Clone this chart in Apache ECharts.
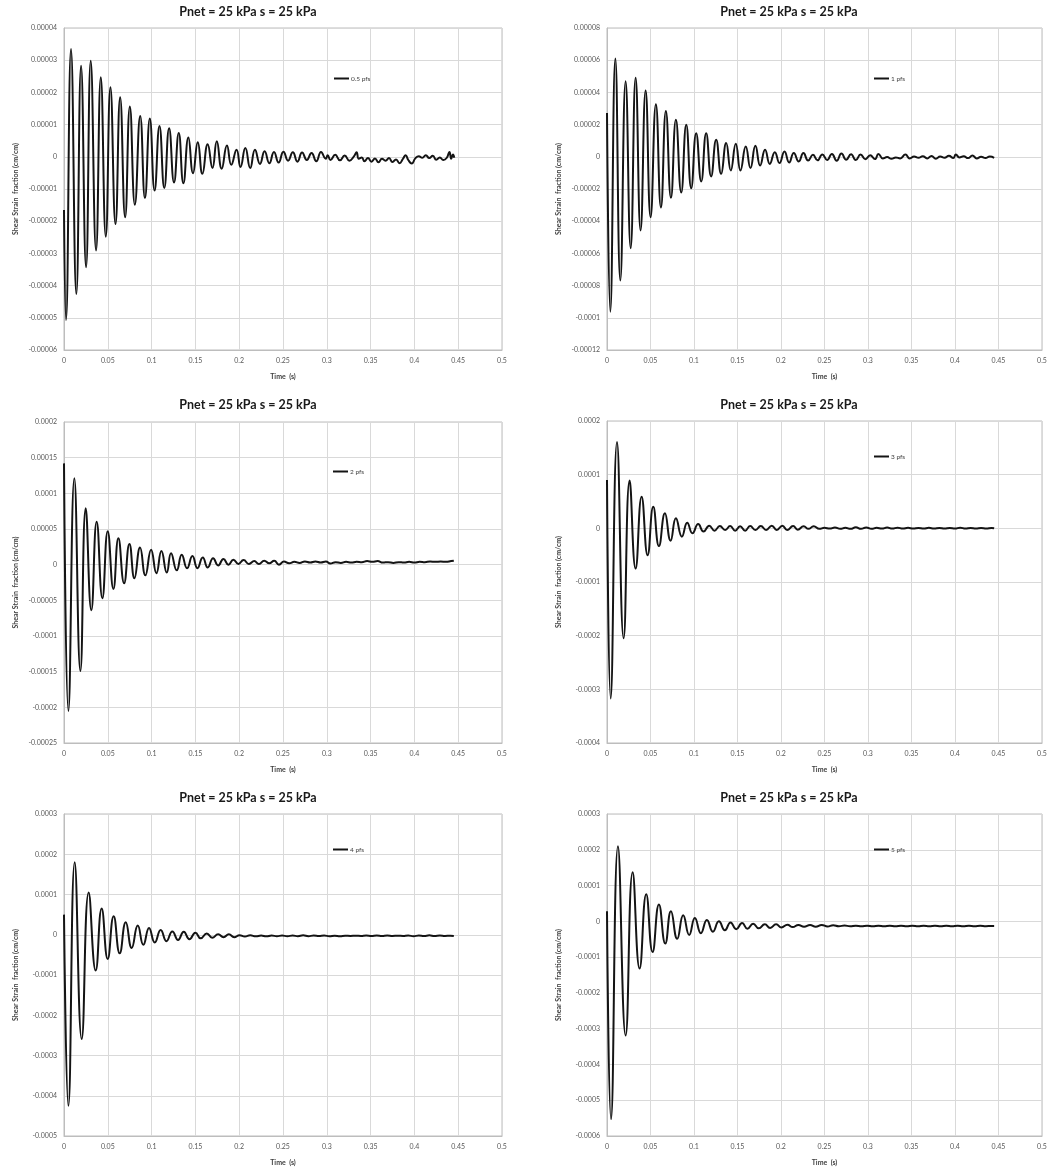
<!DOCTYPE html>
<html>
<head>
<meta charset="utf-8">
<title>Shear strain response</title>
<script src="https://cdn.jsdelivr.net/npm/echarts@6/dist/echarts.min.js"></script>
<style>
  html, body { margin: 0; padding: 0; background: #ffffff; }
  #chart { width: 1062px; height: 1174px; }
</style>
</head>
<body>
<div id="chart"></div>
<script>
// Shear strain time histories, [time (s), strain (cm/cm)] at peaks, troughs and tail wiggles.
const pfs05 = [
  [0, -1.65e-5], [0.0023, -5.07e-5], [0.0080, 3.35e-5], [0.0141, -4.26e-5], [0.0195, 2.83e-5],
  [0.0252, -3.43e-5], [0.0305, 2.98e-5], [0.0366, -2.91e-5], [0.0420, 2.47e-5], [0.0477, -2.48e-5],
  [0.0530, 2.16e-5], [0.0588, -2.09e-5], [0.0641, 1.85e-5], [0.0698, -1.88e-5], [0.0752, 1.56e-5],
  [0.0809, -1.49e-5], [0.0870, 1.27e-5], [0.0924, -1.28e-5], [0.0980, 1.19e-5], [0.1034, -1.05e-5],
  [0.1090, 0.96e-5], [0.1145, -0.97e-5], [0.1200, 0.89e-5], [0.1256, -0.80e-5], [0.1310, 0.74e-5],
  [0.1363, -0.82e-5], [0.1420, 0.60e-5], [0.1473, -0.51e-5], [0.1527, 0.45e-5], [0.1580, -0.53e-5],
  [0.1640, 0.39e-5], [0.1695, -0.35e-5], [0.1744, 0.48e-5], [0.1800, -0.37e-5], [0.1860, 0.35e-5],
  [0.1910, -0.25e-5], [0.1970, 0.22e-5], [0.2015, -0.32e-5], [0.2070, 0.27e-5], [0.2126, -0.35e-5],
  [0.2180, 0.22e-5], [0.2237, -0.22e-5], [0.2290, 0.17e-5], [0.2344, -0.20e-5], [0.2397, 0.15e-5],
  [0.2450, -0.18e-5], [0.2505, 0.16e-5], [0.2558, -0.12e-5], [0.2612, 0.14e-5], [0.2665, -0.15e-5],
  [0.2718, 0.13e-5], [0.2772, -0.10e-5], [0.2826, 0.12e-5], [0.2880, -0.14e-5], [0.2934, 0.15e-5],
  [0.2988, -0.06e-5], [0.3010, 0.05e-5], [0.3042, -0.10e-5], [0.3096, 0.06e-5], [0.3150, -0.11e-5],
  [0.3204, 0.04e-5], [0.3258, -0.12e-5], [0.3312, 0.02e-5], [0.3340, 0.14e-5], [0.3365, -0.06e-5],
  [0.3400, -0.02e-5], [0.3430, -0.14e-5], [0.3470, -0.04e-5], [0.3510, -0.15e-5], [0.3550, -0.05e-5],
  [0.3590, -0.17e-5], [0.3630, -0.06e-5], [0.3670, -0.12e-5], [0.3710, -0.04e-5], [0.3750, -0.16e-5],
  [0.3790, -0.08e-5], [0.3830, -0.20e-5], [0.3870, -0.06e-5], [0.3900, 0.05e-5], [0.3930, -0.10e-5],
  [0.3970, -0.21e-5], [0.4010, -0.05e-5], [0.4050, 0.02e-5], [0.4090, -0.03e-5], [0.4130, 0.05e-5],
  [0.4170, -0.04e-5], [0.4210, 0.03e-5], [0.4250, -0.09e-5], [0.4290, -0.02e-5], [0.4330, -0.10e-5],
  [0.4370, -0.03e-5], [0.4400, 0.15e-5], [0.4420, -0.06e-5], [0.4440, 0.07e-5], [0.4455, -0.03e-5]
];

const pfs1 = [
  [0, 2.72e-5], [0.0038, -9.62e-5], [0.0096, 6.11e-5], [0.0153, -7.69e-5], [0.0214, 4.70e-5],
  [0.0272, -5.68e-5], [0.0329, 4.91e-5], [0.0386, -4.58e-5], [0.0444, 4.12e-5], [0.0501, -3.75e-5],
  [0.0562, 3.27e-5], [0.0620, -3.15e-5], [0.0677, 2.84e-5], [0.0735, -2.55e-5], [0.0792, 2.30e-5],
  [0.0853, -2.22e-5], [0.0911, 1.99e-5], [0.0968, -1.95e-5], [0.1025, 1.47e-5], [0.1083, -1.53e-5],
  [0.1140, 1.47e-5], [0.1197, -1.22e-5], [0.1255, 1.06e-5], [0.1312, -1.06e-5], [0.1370, 0.85e-5],
  [0.1423, -0.85e-5], [0.1480, 0.81e-5], [0.1534, -0.85e-5], [0.1595, 0.64e-5], [0.1649, -0.70e-5],
  [0.1706, 0.68e-5], [0.1760, -0.54e-5], [0.1817, 0.44e-5], [0.1871, -0.44e-5], [0.1929, 0.29e-5],
  [0.1983, -0.39e-5], [0.2040, 0.33e-5], [0.2094, -0.35e-5], [0.2147, 0.23e-5], [0.2204, -0.29e-5],
  [0.2258, 0.23e-5], [0.2312, -0.23e-5], [0.2367, 0.12e-5], [0.2420, -0.22e-5], [0.2475, 0.15e-5],
  [0.2530, -0.20e-5], [0.2585, 0.18e-5], [0.2640, -0.25e-5], [0.2695, 0.20e-5], [0.2750, -0.18e-5],
  [0.2805, 0.16e-5], [0.2860, -0.20e-5], [0.2915, 0.14e-5], [0.2970, -0.15e-5], [0.3025, 0.10e-5],
  [0.3080, -0.14e-5], [0.3120, 0.18e-5], [0.3170, -0.10e-5], [0.3220, -0.02e-5], [0.3270, -0.12e-5],
  [0.3320, -0.04e-5], [0.3370, -0.10e-5], [0.3430, 0.14e-5], [0.3480, -0.10e-5], [0.3530, 0.02e-5],
  [0.3580, -0.06e-5], [0.3630, 0.04e-5], [0.3680, -0.10e-5], [0.3730, 0.05e-5], [0.3780, -0.12e-5],
  [0.3830, 0.02e-5], [0.3880, -0.06e-5], [0.3930, 0.06e-5], [0.3980, -0.08e-5], [0.4010, 0.14e-5],
  [0.4050, -0.04e-5], [0.4100, 0.04e-5], [0.4150, -0.08e-5], [0.4200, 0.08e-5], [0.4250, -0.10e-5],
  [0.4300, 0.00], [0.4350, -0.08e-5], [0.4400, 0.02e-5], [0.4450, -0.06e-5]
];

const pfs2 = [
  [0, 14.2e-5], [0.0050, -20.5e-5], [0.0118, 12.1e-5], [0.0187, -14.9e-5], [0.0248, 7.9e-5],
  [0.0312, -6.4e-5], [0.0373, 6.0e-5], [0.0438, -4.7e-5], [0.0499, 4.7e-5], [0.0564, -3.4e-5],
  [0.0621, 3.7e-5], [0.0686, -2.6e-5], [0.0747, 2.9e-5], [0.0804, -1.9e-5], [0.0868, 2.4e-5],
  [0.0929, -1.5e-5], [0.0994, 2.1e-5], [0.1055, -1.2e-5], [0.1112, 1.9e-5], [0.1173, -1.1e-5],
  [0.1222, 1.6e-5], [0.1287, -0.8e-5], [0.1344, 1.4e-5], [0.1405, -0.5e-5], [0.1466, 1.2e-5],
  [0.1523, -0.5e-5], [0.1584, 1.0e-5], [0.1641, -0.4e-5], [0.1702, 0.9e-5], [0.1760, -0.1e-5],
  [0.1820, 0.8e-5], [0.1877, 0.0], [0.1934, 0.7e-5], [0.1991, 0.1e-5], [0.2050, 0.65e-5],
  [0.2111, 0.1e-5], [0.2172, 0.5e-5], [0.2225, 0.1e-5], [0.2286, 0.55e-5], [0.2343, 0.2e-5],
  [0.2400, 0.55e-5], [0.2454, 0.0], [0.2511, 0.45e-5], [0.2570, 0.2e-5], [0.2630, 0.4e-5],
  [0.2690, 0.25e-5], [0.2750, 0.45e-5], [0.2810, 0.3e-5], [0.2870, 0.45e-5], [0.2930, 0.3e-5],
  [0.2990, 0.45e-5], [0.3040, 0.15e-5], [0.3100, 0.35e-5], [0.3160, 0.25e-5], [0.3220, 0.4e-5],
  [0.3280, 0.3e-5], [0.3340, 0.4e-5], [0.3400, 0.35e-5], [0.3460, 0.5e-5], [0.3520, 0.4e-5],
  [0.3580, 0.5e-5], [0.3640, 0.3e-5], [0.3700, 0.35e-5], [0.3760, 0.25e-5], [0.3820, 0.35e-5],
  [0.3880, 0.3e-5], [0.3940, 0.4e-5], [0.4000, 0.3e-5], [0.4060, 0.4e-5], [0.4120, 0.35e-5],
  [0.4180, 0.45e-5], [0.4240, 0.4e-5], [0.4300, 0.45e-5], [0.4360, 0.4e-5], [0.4420, 0.5e-5],
  [0.4450, 0.55e-5]
];

const pfs3 = [
  [0, 9.0e-5], [0.0042, -31.7e-5], [0.0115, 16.1e-5], [0.0191, -20.5e-5], [0.0260, 8.9e-5],
  [0.0329, -7.5e-5], [0.0398, 5.9e-5], [0.0467, -5.0e-5], [0.0532, 4.0e-5], [0.0597, -3.3e-5],
  [0.0666, 2.8e-5], [0.0731, -2.3e-5], [0.0792, 1.9e-5], [0.0861, -1.55e-5], [0.0922, 1.05e-5],
  [0.0983, -0.93e-5], [0.1048, 0.8e-5], [0.1110, -0.6e-5], [0.1175, 0.5e-5], [0.1236, -0.43e-5],
  [0.1297, 0.43e-5], [0.1358, -0.3e-5], [0.1416, 0.43e-5], [0.1473, -0.43e-5], [0.1530, 0.37e-5],
  [0.1588, -0.43e-5], [0.1645, 0.43e-5], [0.1706, -0.3e-5], [0.1768, 0.43e-5], [0.1829, -0.3e-5],
  [0.1894, 0.5e-5], [0.1951, -0.3e-5], [0.2016, 0.5e-5], [0.2070, -0.3e-5], [0.2139, 0.43e-5],
  [0.2192, -0.25e-5], [0.2261, 0.37e-5], [0.2315, -0.1e-5], [0.2376, 0.37e-5], [0.2440, -0.1e-5],
  [0.2500, 0.1e-5], [0.2560, -0.05e-5], [0.2620, 0.15e-5], [0.2680, -0.1e-5], [0.2740, 0.1e-5],
  [0.2800, -0.1e-5], [0.2860, 0.2e-5], [0.2920, -0.1e-5], [0.2980, 0.15e-5], [0.3040, -0.1e-5],
  [0.3100, 0.1e-5], [0.3160, -0.05e-5], [0.3220, 0.15e-5], [0.3280, -0.05e-5], [0.3340, 0.12e-5],
  [0.3400, -0.05e-5], [0.3460, 0.1e-5], [0.3520, -0.05e-5], [0.3580, 0.08e-5], [0.3640, -0.05e-5],
  [0.3700, 0.1e-5], [0.3760, -0.05e-5], [0.3820, 0.08e-5], [0.3880, -0.05e-5], [0.3940, 0.06e-5],
  [0.4000, -0.05e-5], [0.4060, 0.12e-5], [0.4120, -0.05e-5], [0.4180, 0.06e-5], [0.4240, -0.05e-5],
  [0.4300, 0.06e-5], [0.4360, -0.04e-5], [0.4420, 0.05e-5], [0.4450, 0.0]
];

const pfs4 = [
  [0, 5.0e-5], [0.0050, -42.5e-5], [0.0122, 18.0e-5], [0.0202, -25.9e-5], [0.0282, 10.5e-5],
  [0.0362, -8.9e-5], [0.0430, 6.5e-5], [0.0499, -6.0e-5], [0.0567, 4.6e-5], [0.0636, -4.6e-5],
  [0.0705, 3.1e-5], [0.0773, -3.3e-5], [0.0842, 2.3e-5], [0.0906, -2.5e-5], [0.0971, 1.7e-5],
  [0.1036, -1.9e-5], [0.1104, 1.2e-5], [0.1169, -1.6e-5], [0.1237, 0.8e-5], [0.1302, -1.3e-5],
  [0.1367, 0.75e-5], [0.1432, -1.1e-5], [0.1500, 0.5e-5], [0.1560, -0.9e-5], [0.1630, 0.33e-5],
  [0.1692, -0.75e-5], [0.1760, 0.1e-5], [0.1821, -0.6e-5], [0.1882, 0.1e-5], [0.1943, -0.6e-5],
  [0.2004, -0.1e-5], [0.2065, -0.45e-5], [0.2126, -0.15e-5], [0.2190, -0.4e-5], [0.2250, -0.2e-5],
  [0.2310, -0.4e-5], [0.2370, -0.2e-5], [0.2430, -0.35e-5], [0.2490, -0.2e-5], [0.2550, -0.35e-5],
  [0.2610, -0.2e-5], [0.2670, -0.35e-5], [0.2730, -0.15e-5], [0.2790, -0.35e-5], [0.2850, -0.2e-5],
  [0.2910, -0.3e-5], [0.2970, -0.2e-5], [0.3030, -0.35e-5], [0.3090, -0.25e-5], [0.3150, -0.35e-5],
  [0.3210, -0.25e-5], [0.3270, -0.3e-5], [0.3330, -0.25e-5], [0.3390, -0.3e-5], [0.3450, -0.2e-5],
  [0.3510, -0.3e-5], [0.3570, -0.2e-5], [0.3630, -0.3e-5], [0.3690, -0.2e-5], [0.3750, -0.3e-5],
  [0.3810, -0.25e-5], [0.3870, -0.3e-5], [0.3930, -0.2e-5], [0.3990, -0.35e-5], [0.4050, -0.2e-5],
  [0.4110, -0.3e-5], [0.4170, -0.15e-5], [0.4230, -0.3e-5], [0.4290, -0.2e-5], [0.4350, -0.3e-5],
  [0.4410, -0.25e-5], [0.4450, -0.3e-5]
];

const pfs5 = [
  [0, 2.8e-5], [0.0046, -55.3e-5], [0.0126, 21.0e-5], [0.0214, -31.9e-5], [0.0295, 13.7e-5],
  [0.0375, -13.2e-5], [0.0451, 7.6e-5], [0.0524, -8.6e-5], [0.0597, 4.7e-5], [0.0670, -6.2e-5],
  [0.0735, 2.8e-5], [0.0807, -4.9e-5], [0.0876, 1.7e-5], [0.0945, -3.8e-5], [0.1010, 0.9e-5],
  [0.1079, -3.3e-5], [0.1148, 0.4e-5], [0.1217, -2.9e-5], [0.1286, 0.0], [0.1355, -2.5e-5],
  [0.1420, -0.3e-5], [0.1485, -2.2e-5], [0.1553, -0.5e-5], [0.1614, -2.05e-5], [0.1680, -0.65e-5],
  [0.1745, -1.95e-5], [0.1814, -0.85e-5], [0.1875, -1.85e-5], [0.1944, -0.85e-5], [0.2005, -1.7e-5],
  [0.2074, -0.95e-5], [0.2135, -1.6e-5], [0.2200, -1.0e-5], [0.2265, -1.5e-5], [0.2334, -1.0e-5],
  [0.2399, -1.5e-5], [0.2468, -1.0e-5], [0.2535, -1.45e-5], [0.2600, -1.1e-5], [0.2665, -1.4e-5],
  [0.2730, -1.15e-5], [0.2795, -1.4e-5], [0.2860, -1.2e-5], [0.2925, -1.4e-5], [0.2990, -1.2e-5],
  [0.3055, -1.4e-5], [0.3120, -1.2e-5], [0.3185, -1.35e-5], [0.3250, -1.2e-5], [0.3315, -1.4e-5],
  [0.3380, -1.25e-5], [0.3445, -1.4e-5], [0.3510, -1.25e-5], [0.3575, -1.4e-5], [0.3640, -1.25e-5],
  [0.3705, -1.35e-5], [0.3770, -1.25e-5], [0.3835, -1.4e-5], [0.3900, -1.25e-5], [0.3965, -1.35e-5],
  [0.4030, -1.2e-5], [0.4095, -1.35e-5], [0.4160, -1.25e-5], [0.4225, -1.35e-5], [0.4290, -1.25e-5],
  [0.4355, -1.35e-5], [0.4420, -1.3e-5], [0.4450, -1.3e-5]
];

const seriesNames = ['0.5 pfs', '1 pfs', '2 pfs', '3 pfs', '4 pfs', '5 pfs'];
const seriesData = [pfs05, pfs1, pfs2, pfs3, pfs4, pfs5];
const panelTitle = 'Pnet = 25 kPa s = 25 kPa';
const yAxisTitle = 'Shear Strain  fraction (cm/cm)';
const xAxisTitle = 'Time  (s)';
// y-axis [min, max, step] per panel
const yMin = [-6e-5, -12e-5, -25e-5, -40e-5, -50e-5, -60e-5];
const yMax = [4e-5, 8e-5, 20e-5, 20e-5, 30e-5, 30e-5];
const yStep = [1e-5, 2e-5, 5e-5, 10e-5, 10e-5, 10e-5];
const xTicks = [0, 0.5, 0.05];

// layout of the 2 x 3 panel sheet
const plotBoxes = [
  { left: 64, top: 28, width: 438, height: 322 },
  { left: 607, top: 28, width: 435, height: 322 },
  { left: 64, top: 422, width: 438, height: 321 },
  { left: 607, top: 421, width: 435, height: 322 },
  { left: 64, top: 814, width: 438, height: 322 },
  { left: 607, top: 814, width: 435, height: 322 }
];
const titleCenters = [[248, 5], [789, 5], [248, 398], [789, 398], [248, 791], [789, 791]];
const legendPos = [[334, 75], [874, 75], [333, 468], [874, 453], [333, 846], [874, 846]];

const FONT = 'Lato, "Open Sans", sans-serif';
const tickText = { fontFamily: FONT, fontSize: 7, color: '#595959' };
const cleanNum = (v, d) => String(parseFloat(Number(v).toFixed(d)));

const option = {
  backgroundColor: '#ffffff',
  animation: false,
  title: titleCenters.map(([x, y]) => ({
    text: panelTitle,
    left: x,
    top: y,
    textAlign: 'center',
    padding: 0,
    textStyle: { fontFamily: FONT, fontSize: 12.5, fontWeight: 'bold', color: '#1a1a1a' }
  })),
  legend: legendPos.map(([x, y], i) => ({
    data: [seriesNames[i]],
    left: x,
    top: y,
    padding: 0,
    icon: 'rect',
    itemWidth: 15,
    itemHeight: 2,
    itemGap: 0,
    selectedMode: false,
    textStyle: { fontFamily: FONT, fontSize: 6.5, color: '#404040', padding: [0, 0, 0, -3] }
  })),
  grid: plotBoxes.map(b => ({
    left: b.left, top: b.top, width: b.width, height: b.height,
    show: true, borderColor: '#bdbdbd', borderWidth: 1, backgroundColor: 'transparent'
  })),
  xAxis: plotBoxes.map((b, i) => ({
    type: 'value',
    gridIndex: i,
    min: xTicks[0],
    max: xTicks[1],
    interval: xTicks[2],
    name: xAxisTitle,
    nameLocation: 'middle',
    nameGap: 23,
    nameTextStyle: { fontFamily: FONT, fontSize: 7, fontWeight: 'bold', color: '#404040' },
    axisLine: { show: true, onZero: false, lineStyle: { color: '#bdbdbd', width: 1 } },
    axisTick: { show: false },
    axisLabel: Object.assign({ margin: 7, formatter: v => cleanNum(v, 2) }, tickText),
    splitLine: { show: true, lineStyle: { color: '#d9d9d9', width: 1 } }
  })),
  yAxis: plotBoxes.map((b, i) => ({
    type: 'value',
    gridIndex: i,
    min: yMin[i],
    max: yMax[i],
    interval: yStep[i],
    name: yAxisTitle,
    nameLocation: 'middle',
    nameGap: 45,
    nameRotate: 90,
    nameTextStyle: { fontFamily: FONT, fontSize: 7, fontWeight: 'bold', color: '#404040' },
    axisLine: { show: true, onZero: false, lineStyle: { color: '#bdbdbd', width: 1 } },
    axisTick: { show: false },
    axisLabel: Object.assign({ margin: 7, formatter: v => cleanNum(v, 6) }, tickText),
    splitLine: { show: true, lineStyle: { color: '#d9d9d9', width: 1 } }
  })),
  series: seriesData.map((d, i) => ({
    name: seriesNames[i],
    type: 'line',
    xAxisIndex: i,
    yAxisIndex: i,
    data: d,
    smooth: 0.5,
    showSymbol: false,
    symbol: 'none',
    lineStyle: { color: '#141414', width: 2 },
    itemStyle: { color: '#141414' }
  }))
};

const chart = echarts.init(document.getElementById('chart'), null, { renderer: 'canvas' });
chart.setOption(option);
</script>
</body>
</html>
